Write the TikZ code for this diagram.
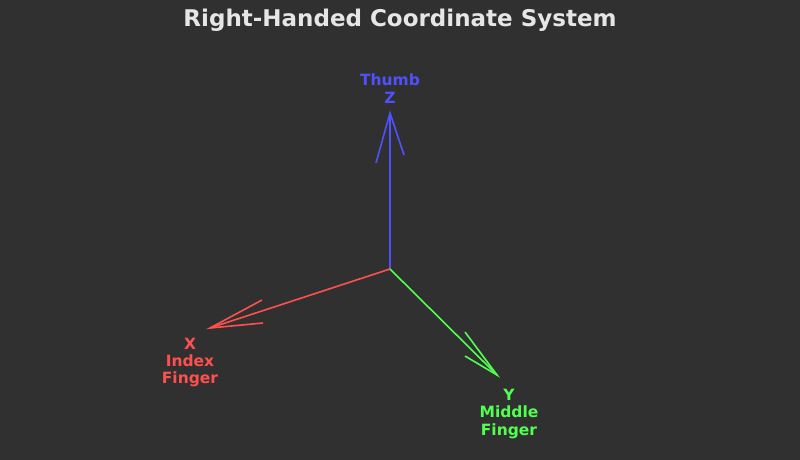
\documentclass[tikz,border=0pt]{standalone}
\usepackage{fontspec}
\setmainfont{DejaVu Sans}
\definecolor{bg}{HTML}{303030}
\definecolor{zc}{HTML}{5050FF}
\definecolor{xc}{HTML}{FF5050}
\definecolor{yc}{HTML}{50FF50}
\definecolor{tc}{HTML}{E6E6E6}
\begin{document}
\begin{tikzpicture}[x=1pt,y=-1pt,
  axis/.style={line width=1.6pt},
  lbl/.style={font=\bfseries\fontsize{15.5}{17.3}\selectfont, align=center, inner sep=0pt}]
\fill[bg] (0,0) rectangle (800,460);
\useasboundingbox (0,0) rectangle (800,460);
\node[font=\bfseries\fontsize{23}{27}\selectfont, text=tc, inner sep=0pt] (title) at (400,20) {Right-Handed Coordinate System};
\coordinate (O) at (390,269);
\coordinate (Z) at (390,113);
\coordinate (X) at (210,328);
\coordinate (Y) at (497,375);
\coordinate (z1) at (376,163);
\coordinate (z2) at (404,155);
\coordinate (x1) at (262,300);
\coordinate (x2) at (263,323);
\coordinate (y1) at (465,332);
\coordinate (y2) at (465,356);
\draw[axis, zc] (O) -- (Z);
\draw[axis, zc] (z1) -- (Z) -- (z2);
\draw[axis, xc] (O) -- (X);
\draw[axis, xc] (x1) -- (X) -- (x2);
\draw[axis, yc] (O) -- (Y);
\draw[axis, yc] (y1) -- (Y) -- (y2);
\node[lbl, text=zc] (zl) at (390,88.5) {Thumb\\Z};
\node[lbl, text=xc] (xl) at (190,362.5) {X\\Index\\Finger};
\node[lbl, text=yc] (yl) at (509,414) {Y\\Middle\\Finger};
\end{tikzpicture}
\end{document}
